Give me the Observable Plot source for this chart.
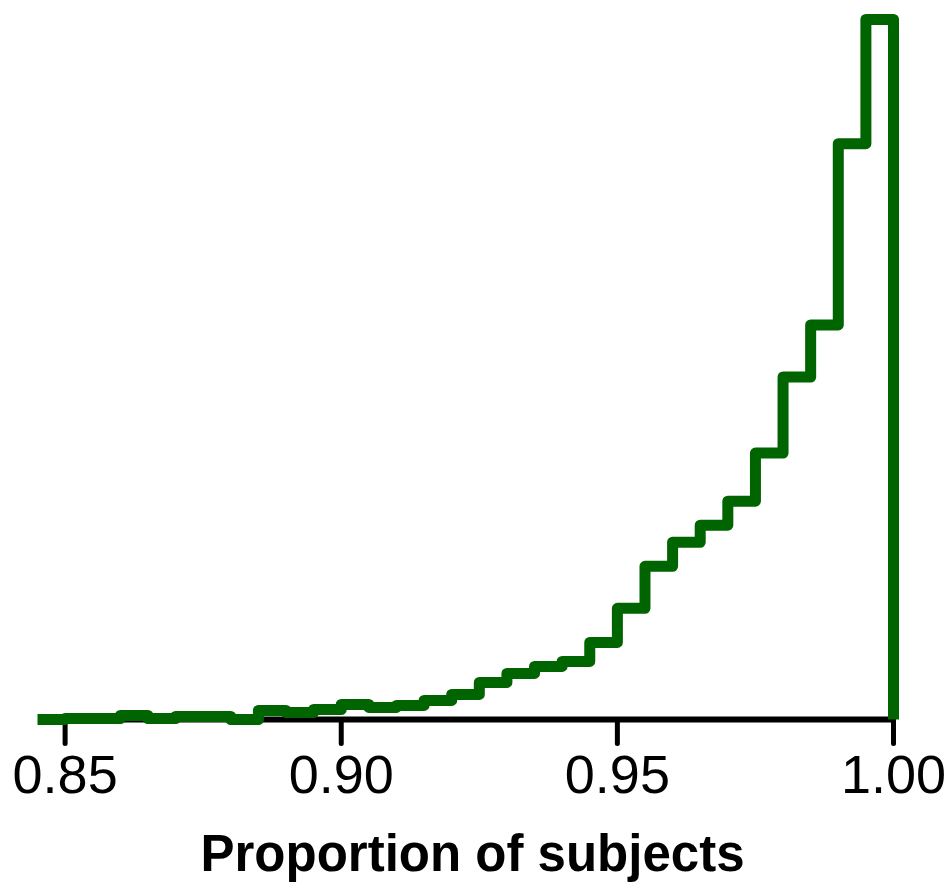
<!DOCTYPE html>
<html>
<head>
<meta charset="utf-8">
<script src="https://cdn.jsdelivr.net/npm/d3@7"></script>
<script src="https://cdn.jsdelivr.net/npm/@observablehq/plot@0.6"></script>
<style>
  html, body { margin: 0; padding: 0; background: #fff; }
  #chart svg { display: block; }
</style>
</head>
<body>
<div id="chart"></div>
<script>
// Histogram bins (left edges) and bar heights (relative frequency, arbitrary units)
const binStarts = [0.845, 0.850, 0.855, 0.860, 0.865, 0.870, 0.875, 0.880, 0.885, 0.890,
                   0.895, 0.900, 0.905, 0.910, 0.915, 0.920, 0.925, 0.930, 0.935, 0.940,
                   0.945, 0.950, 0.955, 0.960, 0.965, 0.970, 0.975, 0.980, 0.985, 0.990,
                   0.995];
const heights   = [0, 1, 1, 4, 1, 3, 3, 0, 9, 7,
                   10, 15, 12, 14, 19, 25, 37, 46, 53, 58,
                   77, 111, 153, 177, 194, 218, 266, 342, 394, 575,
                   699];
const lastEdge = 1.0;
const tickValues = [0.85, 0.90, 0.95, 1.00];
const tickLabels = ["0.85", "0.90", "0.95", "1.00"];
const axisTitle = "Proportion of subjects";

// outline points for a step-after curve, closing down to zero at the last edge
const outline = binStarts.map((x, i) => ({x, y: heights[i]}));
outline.push({x: lastEdge, y: 0});

const axisLine = [{x1: tickValues[0], x2: tickValues[tickValues.length - 1], y: 0}];
const tickData = tickValues.map((x, i) => ({x, y: 0, label: tickLabels[i]}));
// each tick as a short segment hanging below the baseline (length in y-units)
const tickLen = 24;
const tickSegs = tickValues.flatMap((x) => [{x, y: 0, k: x}, {x, y: -tickLen, k: x}]);

const chart = Plot.plot({
  width: 947,
  height: 889,
  marginTop: 19,
  marginBottom: 170,
  marginLeft: 37,
  marginRight: 54,
  style: {fontFamily: "'Liberation Sans', Arial, sans-serif", background: "#fff", color: "#000"},
  x: {domain: [binStarts[0], lastEdge], axis: null},
  y: {domain: [0, d3.max(heights)], axis: null},
  marks: [
    Plot.line(tickSegs, {x: "x", y: "y", z: "k", stroke: "#000", strokeWidth: 5}),
    // tick labels
    Plot.text(tickData, {x: "x", y: "y", text: "label", dy: 56, lineAnchor: "middle",
      fontSize: 54, fill: "#000"}),
    // axis line
    Plot.ruleY(axisLine, {x1: "x1", x2: "x2", y: "y", stroke: "#000", strokeWidth: 6}),
    Plot.line(outline, {
      x: "x", y: "y", curve: "step-after",
      stroke: "#006400", strokeWidth: 11,
      strokeLinejoin: "round", strokeLinecap: "butt"
    }),
    Plot.text([axisTitle], {
      frameAnchor: "bottom", lineAnchor: "middle", dx: 7, dy: 135,
      fontSize: 51, fontWeight: "bold", fill: "#000"
    })
  ]
});
document.getElementById("chart").appendChild(chart);
</script>
</body>
</html>
